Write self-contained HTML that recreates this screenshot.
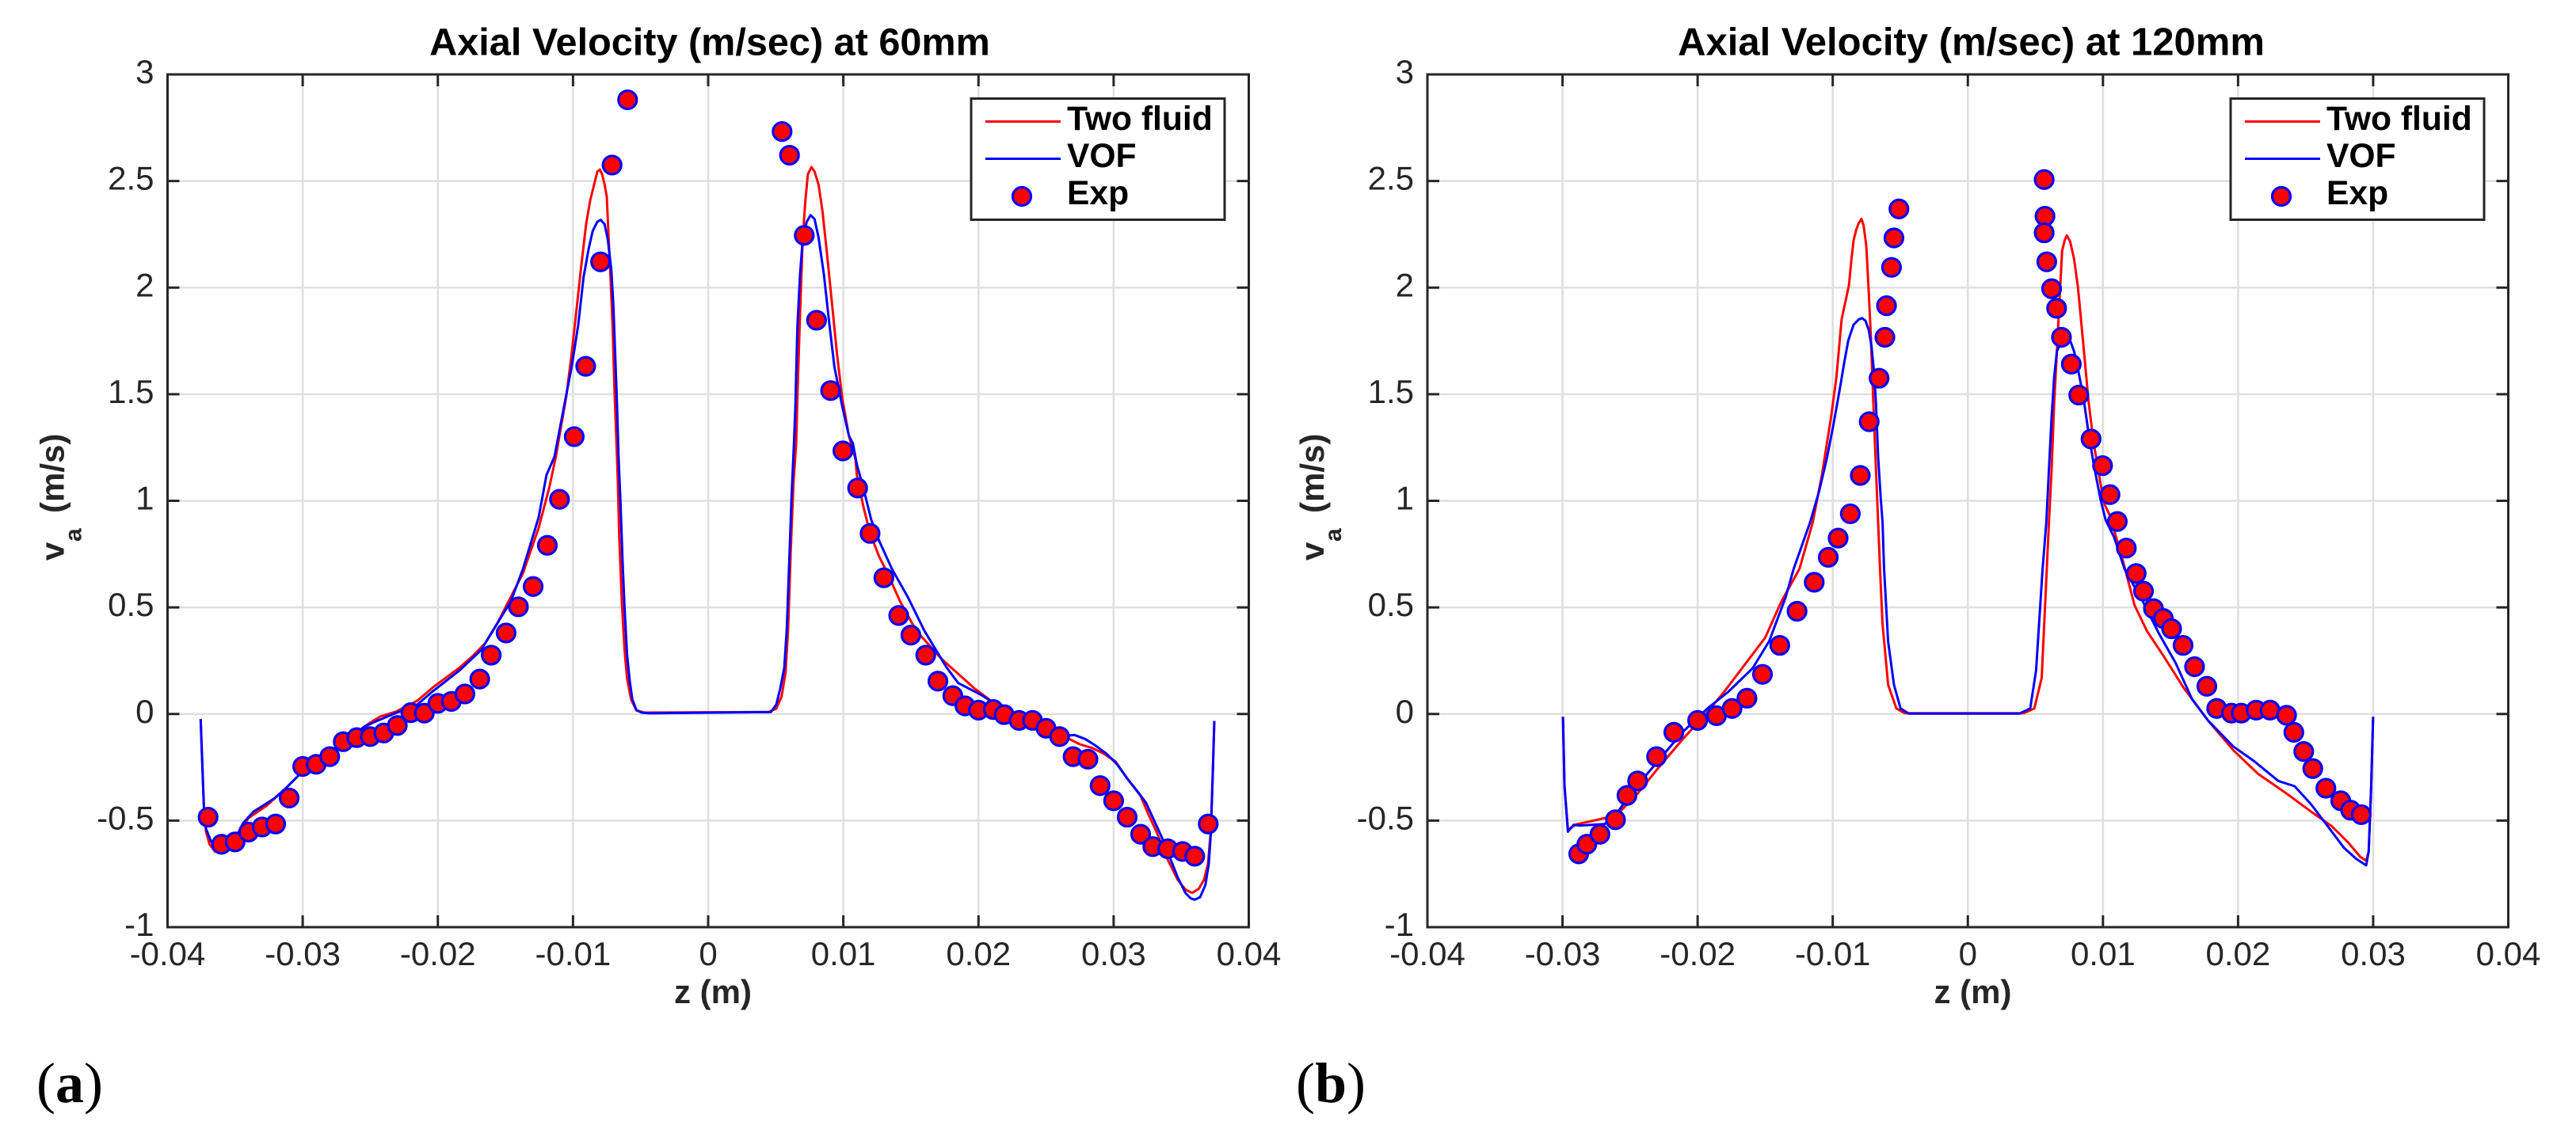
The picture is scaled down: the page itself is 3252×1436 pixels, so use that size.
<!DOCTYPE html>
<html lang="en">
<head>
<meta charset="utf-8">
<title>Axial Velocity at 60mm and 120mm</title>
<style>
html,body{margin:0;padding:0;background:#fff;width:3252px;height:1436px;overflow:hidden}
svg{display:block;font-family:"Liberation Sans",Arial,sans-serif}
</style>
</head>
<body>
<svg id="figure" xmlns="http://www.w3.org/2000/svg" width="3252" height="1436" viewBox="0 0 3252 1436"></svg>
<script>
// ---- shared axis data ----
const xTickValues = [-0.04,-0.03,-0.02,-0.01,0,0.01,0.02,0.03,0.04];
const xTickLabels = ['-0.04','-0.03','-0.02','-0.01','0','0.01','0.02','0.03','0.04'];
const yTickValues = [-1,-0.5,0,0.5,1,1.5,2,2.5,3];
const yTickLabels = ['-1','-0.5','0','0.5','1','1.5','2','2.5','3'];
const seriesNames = ['Two fluid','VOF','Exp'];

// ---- panel (a): 60 mm ----
const a_twoFluid_z = [-.03755,-.03731,-.03716,-.0369,-.0365,-.036,-.0353,-.03403,-.03266,-.03131,-.03014,-.0289,-.0274,-.02545,-.02505,-.02427,-.02309,-.02153,-.02036,-.0184,-.0174,-.0165,-.0156,-.0137,-.01254,-.01176,-.01127,
  -.01049,-.0101,-.00971,-.00942,-.00903,-.00873,-.00844,-.0082,-.00801,-.00785,-.00766,-.0075,-.00737,-.00723,-.00707,-.00692,-.00674,-.00668,-.00658,-.00639,-.00619,-.006,-.0057,-.00531,-.00473,
  .00445,.00504,.00543,.00572,.00592,.00611,.00631,.00651,.00664,.0068,.00699,.00719,.00738,.00764,.00787,.00817,.00846,.00875,.00914,.00953,.00992,.01041,.0109,.011,.01149,.01198,.01266,.01325,
  .0142,.0154,.0173,.0197,.0215,.0236,.0255,.02672,.0275,.02848,.02926,.03014,.03102,.032,.03258,.03317,.03395,.03473,.03532,.03581,.0363,.03669,.03698,.03718,.03732,.03745];
const a_twoFluid_v = [-.024,-.43,-.55,-.61,-.645,-.654,-.628,-.489,-.43,-.352,-.278,-.22,-.152,-.06,-.043,-.012,.0115,.062,.125,.217,.273,.332,.425,.66,.873,1.06,1.207,
  1.492,1.69,1.913,2.086,2.297,2.408,2.483,2.544,2.554,2.532,2.483,2.427,2.247,2.062,1.814,1.504,1.195,1.084,.836,.527,.304,.167,.068,.016,.0065,
  .009,.025,.081,.192,.403,.774,1.084,1.269,1.566,1.876,2.222,2.408,2.532,2.566,2.544,2.483,2.359,2.185,1.938,1.69,1.48,1.306,1.195,1.121,.972,.848,.737,.663,
  .528,.39,.256,.12,.035,-.033,-.08,-.117,-.142,-.161,-.186,-.223,-.304,-.385,-.472,-.553,-.677,-.777,-.824,-.839,-.82,-.777,-.703,-.554,-.306,-.033];
const a_vof_z = [-.03755,-.03731,-.03716,-.0368,-.03637,-.036,-.0353,-.03442,-.03364,-.0321,-.03131,-.03014,-.0289,-.0274,-.02545,-.02467,-.02329,-.02153,-.02036,-.0184,-.0168,-.0156,-.0146,-.0137,-.01254,-.01196,-.01137,-.01059,-.0101,-.00961,-.00922,-.00883,-.00854,-.0082,-.00795,-.00766,-.00742,-.00717,-.00701,-.00688,-.00674,-.00662,-.00649,-.00633,-.00619,-.006,-.0058,-.00561,-.00531,-.00492,-.00434,
  .00465,.00504,.00533,.00563,.00582,.00602,.00617,.00635,.00645,.0066,.0068,.00699,.00729,.00758,.00787,.00817,.00856,.00895,.00934,.00992,.01041,.01071,.011,.01149,.01207,.01266,.0136,.0148,.016,.0176,.0185,.0203,.0221,.0236,.0258,.02663,.02711,.02789,.02868,.02946,.03024,.03102,.0318,.03239,.03298,.03356,.03415,.03473,.03532,.03571,.03601,.0364,.03679,.03704,.0372,.03732,.03745];
const a_vof_v = [-.024,-.439,-.538,-.594,-.637,-.645,-.625,-.513,-.458,-.396,-.352,-.278,-.22,-.152,-.06,-.037,.0003,.0436,.107,.204,.3,.425,.528,.681,.922,1.121,1.207,1.467,1.628,1.826,2.049,2.185,2.266,2.309,2.318,2.297,2.223,2.086,1.913,1.69,1.443,1.195,.997,.712,.502,.279,.155,.068,.019,.0065,.003,
  .009,.044,.118,.217,.403,.749,1.022,1.269,1.443,1.814,2.062,2.222,2.309,2.34,2.322,2.235,2.062,1.839,1.628,1.443,1.306,1.269,1.17,1.059,.91,.811,.68,.545,.39,.222,.145,.086,.009,-.033,-.098,-.1012,-.0986,-.117,-.149,-.186,-.235,-.304,-.366,-.416,-.497,-.578,-.671,-.765,-.84,-.865,-.871,-.859,-.802,-.703,-.554,-.306,-.033];
const a_exp_z = [-.037,-.036,-.035,-.034,-.033,-.032,-.031,-.03,-.029,-.028,-.027,-.026,-.025,-.024,-.023,-.022,-.021,-.02,-.019,-.018,-.0169,-.01605,-.01495,-.01404,-.01295,-.0119,-.011,-.00991,-.00906,-.00796,-.00711,-.00596,.00547,.00602,.00711,.00802,.00906,.00997,.01106,.01198,.013,.0141,.015,.0161,.017,.0181,.019,.02,.0211,.0219,.023,.024,.025,.026,.027,.0281,.029,.03,.031,.032,.0329,.034,.0351,.036,.037];
const a_exp_v = [-.484,-.611,-.6,-.554,-.53,-.516,-.394,-.246,-.236,-.2,-.13,-.111,-.106,-.089,-.054,.006,.004,.05,.059,.094,.164,.276,.38,.503,.598,.791,1.007,1.301,1.631,2.121,2.575,2.881,2.732,2.621,2.245,1.847,1.517,1.234,1.06,.847,.639,.462,.37,.276,.154,.086,.038,.018,.021,-.003,-.03,-.03,-.067,-.106,-.2,-.212,-.336,-.407,-.484,-.564,-.622,-.632,-.645,-.667,-.516];

// ---- panel (b): 120 mm ----
const b_twoFluid_z = [-.02997,-.02985,-.0296,-.029,-.02748,-.026,-.02444,-.02292,-.0211,-.01927,-.01805,-.01653,-.015,-.0138,-.01246,
  -.01148,-.0108,-.01012,-.00973,-.00934,-.0088,-.00861,-.00846,-.00826,-.00807,-.00787,-.00771,-.00752,-.00736,-.00719,-.00699,-.0068,-.00664,-.0065,-.00632,-.0059,-.00529,-.00468,
  .00413,.00492,.00547,.00584,.006,.0062,.00639,.00659,.00679,.00698,.00717,.00733,.00757,.00786,.00815,.00854,.00893,.00932,.00981,.01011,.01052,.01143,.01234,.01325,.01447,.016,.01781,.01964,.02146,.02359,.02541,.02693,.02815,.02906,.02948,.02967,.02985,.03];
const b_twoFluid_v = [-.013,-.34,-.543,-.518,-.497,-.475,-.373,-.254,-.118,.009,.103,.23,.358,.528,.681,
  .898,1.121,1.393,1.579,1.851,2.012,2.136,2.222,2.272,2.303,2.322,2.291,2.198,2.012,1.789,1.455,1.145,.898,.68,.425,.137,.026,.004,
  .004,.026,.17,.68,.898,1.145,1.455,1.702,1.95,2.173,2.222,2.245,2.216,2.136,2,1.74,1.467,1.269,1.083,.984,.93,.73,.51,.39,.273,.12,-.033,-.169,-.28,-.373,-.458,-.526,-.603,-.671,-.688,-.645,-.34,-.013];
const b_vof_z = [-.02997,-.02985,-.0296,-.02918,-.0287,-.02687,-.02608,-.02474,-.02292,-.0211,-.01927,-.01775,-.01593,-.01471,-.0135,-.01289,
  -.01168,-.011,-.01041,-.00992,-.00943,-.00914,-.00885,-.00846,-.00807,-.00783,-.00758,-.00734,-.00713,-.00693,-.0068,-.00664,-.00646,-.00631,
  -.0062,-.0059,-.00547,-.00498,-.00438,
  .00383,.00462,.00505,.00553,
  .00581,.006,.0062,.00639,.00659,.00717,.00757,.00786,.00815,.00854,.00893,.00932,.00981,.0102,.01082,.0116,
  .01295,.01416,.01538,.0166,.01781,.01964,.02116,.02298,.02419,.02541,.02663,.02784,.02875,.02948,.02967,.02985,.03];
const b_vof_v = [-.013,-.34,-.552,-.52,-.523,-.516,-.475,-.356,-.22,-.084,.026,.103,.214,.341,.545,.681,
  .898,1.046,1.207,1.368,1.542,1.653,1.752,1.826,1.851,1.857,1.845,1.802,1.727,1.591,1.455,1.207,1.022,.898,
  .68,.34,.137,.026,.002,
  .002,.026,.205,.68,
  .898,1.145,1.393,1.579,1.702,1.777,1.752,1.702,1.616,1.492,1.319,1.17,1.009,.91,.83,.68,
  .528,.375,.239,.069,-.033,-.152,-.22,-.314,-.339,-.424,-.526,-.628,-.68,-.71,-.645,-.34,-.013];
const b_exp_z = [-.0288,-.0282,-.02723,-.02608,-.02523,-.02444,-.02304,-.02176,-.02,-.0186,-.01745,-.01635,-.0152,-.01392,-.01264,-.01137,-.01033,-.0096,-.0087,-.00796,-.0073,-.00657,-.00614,-.00602,-.00565,-.00547,-.0051,.00565,.00571,.00565,.00584,.0062,.00657,.00693,.00766,.00821,.00912,.00997,.01052,.01106,.01173,.01246,.013,.01374,.01447,.01508,.01593,.01678,.01769,.01842,.01951,.02024,.02134,.02237,.02359,.02413,.02486,.02553,.0265,.0276,.02833,.02912];
const b_exp_v = [-.656,-.611,-.564,-.496,-.382,-.314,-.2,-.086,-.03,-.008,.026,.074,.186,.322,.482,.618,.735,.825,.939,1.119,1.371,1.575,1.767,1.915,2.095,2.233,2.369,2.507,2.335,2.257,2.121,1.995,1.903,1.767,1.641,1.496,1.29,1.165,1.029,.903,.778,.659,.576,.494,.448,.4,.322,.222,.13,.026,.004,.004,.018,.018,-.006,-.086,-.176,-.256,-.348,-.407,-.451,-.472];

// ---- layout ----
const NS = 'http://www.w3.org/2000/svg';
const fig = document.getElementById('figure');
const AX_TOP = 94, AX_BOTTOM = 1171;
const INK = '#262626', GRID = '#dfdfdf';

function yScale(v){ return AX_BOTTOM - (v - yTickValues[0]) / (yTickValues[yTickValues.length-1] - yTickValues[0]) * (AX_BOTTOM - AX_TOP); }
function makeXScale(left, right){
  return function(z){ return left + (z - xTickValues[0]) / (xTickValues[xTickValues.length-1] - xTickValues[0]) * (right - left); };
}
function mk(parent, tag, attrs, txt){
  const e = document.createElementNS(NS, tag);
  for (const k in attrs) e.setAttribute(k, attrs[k]);
  if (txt !== undefined) e.textContent = txt;
  parent.appendChild(e);
  return e;
}
function pathFor(zs, vs, xS){
  let d = '';
  for (let i = 0; i < zs.length; i++) d += (i ? 'L' : 'M') + xS(zs[i]).toFixed(1) + ' ' + yScale(vs[i]).toFixed(1);
  return d;
}

function drawPanel(p){
  const xS = makeXScale(p.left, p.right);
  const g = mk(fig, 'g', {});
  
  

  // grid
  xTickValues.forEach(function(t){
    const l = mk(g, 'line', {x1:xS(t), x2:xS(t), y1:AX_TOP, y2:AX_BOTTOM, stroke:GRID, 'stroke-width':2.6});
    
    
  });
  yTickValues.forEach(function(t){
    const l = mk(g, 'line', {x1:p.left, x2:p.right, y1:yScale(t), y2:yScale(t), stroke:GRID, 'stroke-width':2.6});
    
    
  });

  // series
  const red = mk(g, 'path', {d:pathFor(p.twoZ, p.twoV, xS), fill:'none', stroke:'#ff0000', 'stroke-width':3, 'stroke-linejoin':'round'});
  
  
  const blue = mk(g, 'path', {d:pathFor(p.vofZ, p.vofV, xS), fill:'none', stroke:'#0000ff', 'stroke-width':3, 'stroke-linejoin':'round'});
  
  

  // box
  const box = mk(g, 'rect', {x:p.left, y:AX_TOP, width:p.right-p.left, height:AX_BOTTOM-AX_TOP, fill:'none', stroke:INK, 'stroke-width':3});
  
  

  // ticks and tick labels
  xTickValues.forEach(function(t, i){
    const x = xS(t);
    const bottomTick = mk(g, 'line', {x1:x, x2:x, y1:AX_BOTTOM, y2:AX_BOTTOM-15, stroke:INK, 'stroke-width':3});
    
    
    const topTick = mk(g, 'line', {x1:x, x2:x, y1:AX_TOP, y2:AX_TOP+15, stroke:INK, 'stroke-width':3});
    
    
    const lab = mk(g, 'text', {x:x, y:1219, 'text-anchor':'middle', 'font-size':42, fill:INK}, xTickLabels[i]);
    
    
  });
  yTickValues.forEach(function(t, i){
    const y = yScale(t);
    const leftTick = mk(g, 'line', {x1:p.left, x2:p.left+15, y1:y, y2:y, stroke:INK, 'stroke-width':3});
    
    
    const rightTick = mk(g, 'line', {x1:p.right, x2:p.right-15, y1:y, y2:y, stroke:INK, 'stroke-width':3});
    
    
    const lab = mk(g, 'text', {x:p.left-17, y:y+11, 'text-anchor':'end', 'font-size':42, fill:INK}, yTickLabels[i]);
    
    
  });

  // experimental markers
  p.expZ.forEach(function(z, i){
    const c = mk(g, 'circle', {cx:xS(z), cy:yScale(p.expV[i]), r:11.5, fill:'#ff0000', stroke:'#0000ff', 'stroke-width':3.2});
    
    
  });

  // title and axis titles
  const title = mk(g, 'text', {x:p.titleX, y:69.5, 'text-anchor':'middle', 'font-size':p.titleSize, 'font-weight':'bold', fill:'#000'}, p.title);
  
  
  const xTitle = mk(g, 'text', {x:p.left+688.5, y:1267, 'text-anchor':'middle', 'font-size':42, 'font-weight':'bold', fill:INK}, 'z (m)');
  
  

  const yTitle = mk(g, 'text', {transform:'translate(' + (p.left-131) + ' 708) rotate(-90)', 'font-size':42, 'font-weight':'bold', fill:INK});
  
  
  mk(yTitle, 'tspan', {x:0, y:0}, 'v');
  mk(yTitle, 'tspan', {x:24, y:22, 'font-size':30}, 'a');
  mk(yTitle, 'tspan', {x:60, y:0}, '(m/s)');

  // legend
  const lx = p.right - 350.5;
  const leg = mk(g, 'g', {});
  
  
  const legBox = mk(leg, 'rect', {x:lx, y:124.5, width:320, height:153, fill:'#fff', stroke:INK, 'stroke-width':3});
  
  
  const l1 = mk(leg, 'line', {x1:lx+18, x2:lx+113, y1:153.5, y2:153.5, stroke:'#ff0000', 'stroke-width':3});
  
  
  const l2 = mk(leg, 'line', {x1:lx+18, x2:lx+113, y1:200.5, y2:200.5, stroke:'#0000ff', 'stroke-width':3});
  
  
  const l3 = mk(leg, 'circle', {cx:lx+64, cy:248, r:11.5, fill:'#ff0000', stroke:'#0000ff', 'stroke-width':3.2});
  
  
  const t1 = mk(leg, 'text', {x:lx+121, y:164, 'font-size':42.6, 'font-weight':'bold', fill:'#000'}, seriesNames[0]);
  
  
  const t2 = mk(leg, 'text', {x:lx+121, y:211, 'font-size':42.6, 'font-weight':'bold', fill:'#000'}, seriesNames[1]);
  
  
  const t3 = mk(leg, 'text', {x:lx+121, y:258, 'font-size':42.6, 'font-weight':'bold', fill:'#000'}, seriesNames[2]);
  
  

  // panel letter
  const cap = mk(fig, 'text', {x:p.capX, y:1392, 'font-size':72, 'font-family':'"Liberation Serif",serif', fill:'#000'});
  
  
  mk(cap, 'tspan', {}, '(');
  mk(cap, 'tspan', {'font-weight':'bold'}, p.id);
  mk(cap, 'tspan', {}, ')');
}

drawPanel({id:'a', left:211.5, right:1576.5, capX:46, titleX:896, titleSize:48.6, title:'Axial Velocity (m/sec) at 60mm',
  twoZ:a_twoFluid_z, twoV:a_twoFluid_v, vofZ:a_vof_z, vofV:a_vof_v, expZ:a_exp_z, expV:a_exp_v});
drawPanel({id:'b', left:1802, right:3166.5, capX:1636, titleX:2488.5, titleSize:49, title:'Axial Velocity (m/sec) at 120mm',
  twoZ:b_twoFluid_z, twoV:b_twoFluid_v, vofZ:b_vof_z, vofV:b_vof_v, expZ:b_exp_z, expV:b_exp_v});
</script>
</body>
</html>
